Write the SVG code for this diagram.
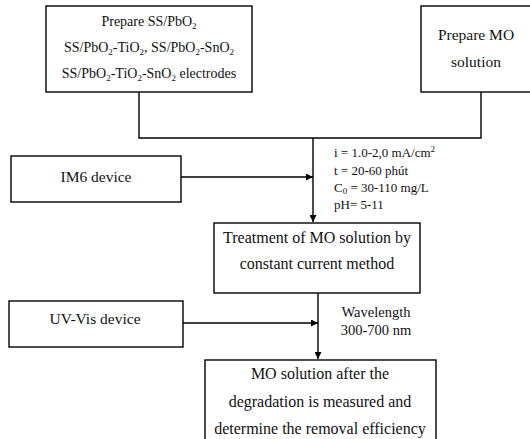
<svg xmlns="http://www.w3.org/2000/svg" width="530" height="439" viewBox="0 0 530 439">
<defs>
<style>
.box{fill:#fff;stroke:#000;stroke-width:1.4}
.ln{fill:none;stroke:#000;stroke-width:1.4}
text{font-family:"Liberation Serif","Times New Roman",serif;fill:#111}
.c{text-anchor:middle;font-size:15.5px}
.b{text-anchor:middle;font-size:16px}
.s{text-anchor:middle;font-size:14px}
.p{font-size:13px}
.sb{font-size:9px}
</style>
<marker id="ah" viewBox="0 0 10 10" refX="10" refY="5" markerWidth="7" markerHeight="7" markerUnits="userSpaceOnUse" orient="auto">
<path d="M0,0 L10,5 L0,10 z" fill="#000"/>
</marker>
</defs>
<rect width="530" height="439" fill="#fff"/>
<g id="connectors">
<polyline class="ln" points="139,92 139,138 481,138 481,92"/>
<line class="ln" x1="313" y1="138" x2="313" y2="222" marker-end="url(#ah)"/>
<line class="ln" x1="181" y1="177" x2="313" y2="177" marker-end="url(#ah)"/>
<line class="ln" x1="318" y1="293" x2="318" y2="359" marker-end="url(#ah)"/>
<line class="ln" x1="183" y1="323" x2="318" y2="323" marker-end="url(#ah)"/>
</g>
<g id="prep-electrodes">
<rect class="box" x="46" y="6" width="206" height="86"/>
<text class="s" x="149" y="26">Prepare SS/PbO<tspan class="sb" dy="3">2</tspan></text>
<text class="s" x="149" y="52">SS/PbO<tspan class="sb" dy="3">2</tspan><tspan dy="-3">-TiO</tspan><tspan class="sb" dy="3">2</tspan><tspan dy="-3">, SS/PbO</tspan><tspan class="sb" dy="3">2</tspan><tspan dy="-3">-SnO</tspan><tspan class="sb" dy="3">2</tspan></text>
<text class="s" x="149" y="78">SS/PbO<tspan class="sb" dy="3">2</tspan><tspan dy="-3">-TiO</tspan><tspan class="sb" dy="3">2</tspan><tspan dy="-3">-SnO</tspan><tspan class="sb" dy="3">2</tspan><tspan dy="-3"> electrodes</tspan></text>
</g>
<g id="prep-mo">
<rect class="box" x="421" y="6" width="112" height="86"/>
<text class="c" x="476" y="40">Prepare MO</text>
<text class="c" x="476" y="67">solution</text>
</g>
<g id="im6">
<rect class="box" x="11" y="156" width="170" height="46"/>
<text class="c" x="96" y="182">IM6 device</text>
</g>
<g id="params">
<text class="p" x="334" y="157">i = 1.0-2,0 mA/cm<tspan class="sb" dy="-5">2</tspan></text>
<text class="p" x="334" y="175">t = 20-60 phút</text>
<text class="p" x="334" y="192">C<tspan class="sb" dy="2">0</tspan><tspan dy="-2"> = 30-110 mg/L</tspan></text>
<text class="p" x="334" y="209">pH= 5-11</text>
</g>
<g id="treatment">
<rect class="box" x="214" y="223" width="206" height="70"/>
<text class="b" x="317" y="243">Treatment of MO solution by</text>
<text class="b" x="317" y="269">constant current method</text>
</g>
<g id="uvvis">
<rect class="box" x="9" y="301" width="174" height="46"/>
<text class="c" x="95" y="324">UV-Vis device</text>
</g>
<g id="wavelength">
<text x="376" y="317" style="font-size:14.5px;text-anchor:middle">Wavelength</text>
<text x="376" y="335" style="font-size:14.5px;text-anchor:middle">300-700 nm</text>
</g>
<g id="result">
<rect class="box" x="205" y="360" width="231" height="90"/>
<text class="b" x="320" y="379">MO solution after the</text>
<text class="b" x="320" y="407">degradation is measured and</text>
<text class="b" x="320" y="434">determine the removal efficiency</text>
</g>
</svg>
